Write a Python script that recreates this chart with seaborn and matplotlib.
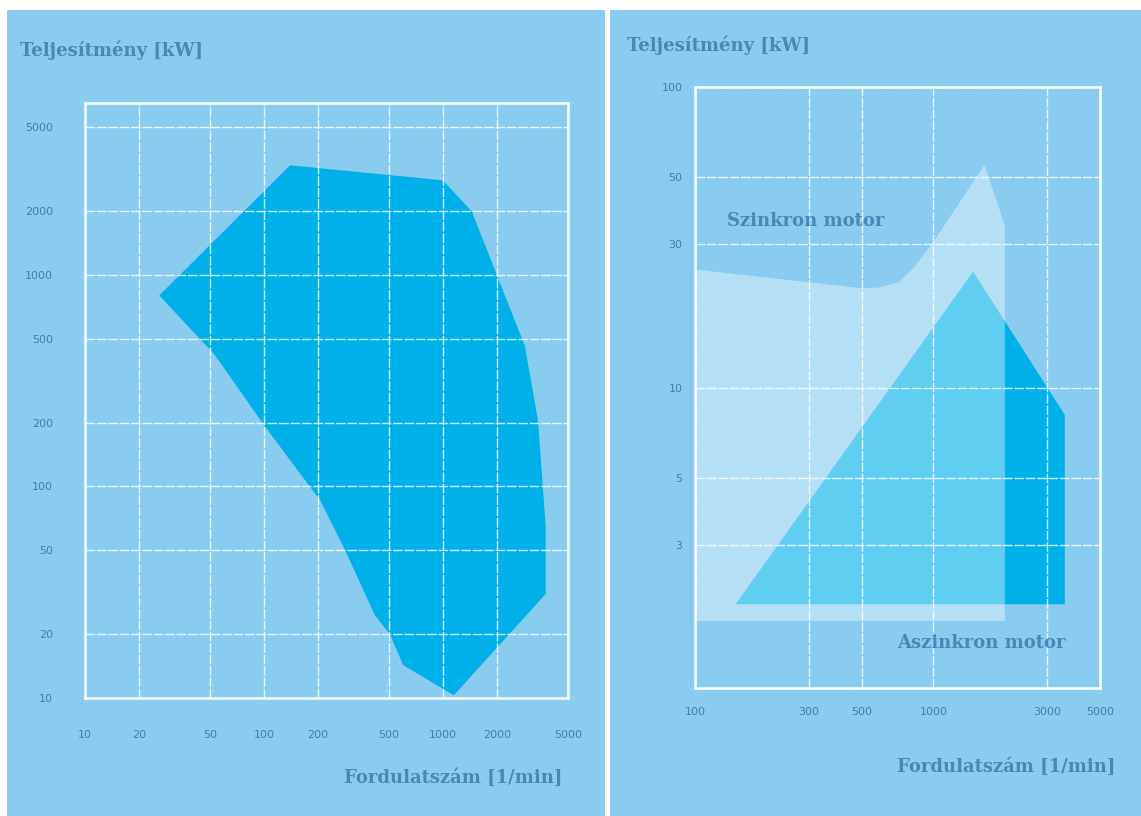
import matplotlib
matplotlib.use("Agg")
import matplotlib.pyplot as plt
import seaborn as sns
from matplotlib.patches import Rectangle
from matplotlib.ticker import FixedLocator, FixedFormatter, NullLocator

# Left chart: power range vs speed (one polygon)
left_rpm = [26, 140, 1000, 1450, 2000, 2870, 3400, 3750, 3750, 1150, 600, 506, 417, 284, 206, 100, 53]
left_kw = [800, 3300, 2800, 2000, 1000, 462, 205, 65, 31, 10.3, 14.3, 20, 24.6, 50, 86, 195, 420]
left_xticks = [10, 20, 50, 100, 200, 500, 1000, 2000, 5000]
left_yticks = [10, 20, 50, 100, 200, 500, 1000, 2000, 5000]

# Right chart: synchronous vs asynchronous motor
sync_rpm = [100, 500, 590, 715, 826, 1000, 1637, 1995, 1995, 100]
sync_kw = [24.7, 21.4, 21.5, 22.4, 25, 30.5, 55, 34.7, 1.67, 1.67]
async_rpm = [148, 1468, 3560, 3560]
async_kw = [1.9, 24.3, 8.1, 1.9]
right_xticks = [100, 300, 500, 1000, 3000, 5000]
right_yticks = [3, 5, 10, 30, 50, 100]

panel_bg = "#89CCEF"
dark_blue = "#00B0E8"
text_col = "#4A86B6"
tick_col = "#4A7AA3"

sns.set_style("white", rc={"axes.facecolor": panel_bg})
plt.rcParams["font.family"] = ["DejaVu Sans"]

W, H = 1141, 816
fig = plt.figure(figsize=(W / 100, H / 100), dpi=100, facecolor="white")

# panel backgrounds
fig.patches.append(Rectangle((7 / W, 0), (605 - 7) / W, (H - 10) / H,
                             transform=fig.transFigure, facecolor=panel_bg, edgecolor="none", zorder=-5))
fig.patches.append(Rectangle((610 / W, 0), (W - 610) / W, (H - 10) / H,
                             transform=fig.transFigure, facecolor=panel_bg, edgecolor="none", zorder=-5))

ax1 = fig.add_axes([85 / W, (H - 698) / H, 483 / W, 595 / H])
ax2 = fig.add_axes([695 / W, (H - 688) / H, 405 / W, 601 / H])


def style_axis(ax, xticks, yticks, xlim, ylim, xpad, ypad):
    ax.set_xscale("log")
    ax.set_yscale("log")
    ax.set_xlim(*xlim)
    ax.set_ylim(*ylim)
    ax.xaxis.set_major_locator(FixedLocator(xticks))
    ax.xaxis.set_major_formatter(FixedFormatter([str(t) for t in xticks]))
    ax.yaxis.set_major_locator(FixedLocator(yticks))
    ax.yaxis.set_major_formatter(FixedFormatter([str(t) for t in yticks]))
    ax.xaxis.set_minor_locator(NullLocator())
    ax.yaxis.set_minor_locator(NullLocator())
    ax.tick_params(length=0, labelsize=8, labelcolor=tick_col)
    ax.tick_params(axis="x", pad=xpad)
    ax.tick_params(axis="y", pad=ypad)
    ax.grid(True, color="white", linewidth=1.0, linestyle=(0, (7, 1.2)), alpha=0.8, zorder=5)
    ax.set_axisbelow(False)
    for s in ax.spines.values():
        s.set_visible(True)
        s.set_color("white")
        s.set_linewidth(1.8)
        s.set_zorder(6)
    ax.set_facecolor(panel_bg)
    ax.set_xlabel("")
    ax.set_ylabel("")


# left chart
ax1.fill(left_rpm, left_kw, color=dark_blue, linewidth=0, zorder=2)
style_axis(ax1, left_xticks, left_yticks, (10, 5000), (10, 6500), 23, 23)

# right chart
ax2.fill(async_rpm, async_kw, color=dark_blue, linewidth=0, zorder=2)
ax2.fill(sync_rpm, sync_kw, color="white", alpha=0.38, linewidth=0, zorder=3)
style_axis(ax2, right_xticks, right_yticks, (100, 5000), (1, 100), 14, 9)

serif = ["DejaVu Serif"]
fs = 13
ax2.text(136, 35.7, "Szinkron motor", family=serif, fontweight="bold", fontsize=fs,
         color=text_col, ha="left", va="center", zorder=7)
ax2.text(3600, 1.41, "Aszinkron motor", family=serif, fontweight="bold", fontsize=fs,
         color=text_col, ha="right", va="center", zorder=7)

fig.text(20 / W, 1 - 50 / H, "Teljesítmény [kW]", family=serif, fontweight="bold",
         fontsize=fs, color=text_col, ha="left", va="center")
fig.text(627 / W, 1 - 45 / H, "Teljesítmény [kW]", family=serif, fontweight="bold",
         fontsize=fs, color=text_col, ha="left", va="center")
fig.text(562 / W, 1 - 778 / H, "Fordulatszám [1/min]", family=serif, fontweight="bold",
         fontsize=fs, color=text_col, ha="right", va="center")
fig.text(1115 / W, 1 - 767 / H, "Fordulatszám [1/min]", family=serif, fontweight="bold",
         fontsize=fs, color=text_col, ha="right", va="center")

fig.savefig("out.png", dpi=100, facecolor="white")
